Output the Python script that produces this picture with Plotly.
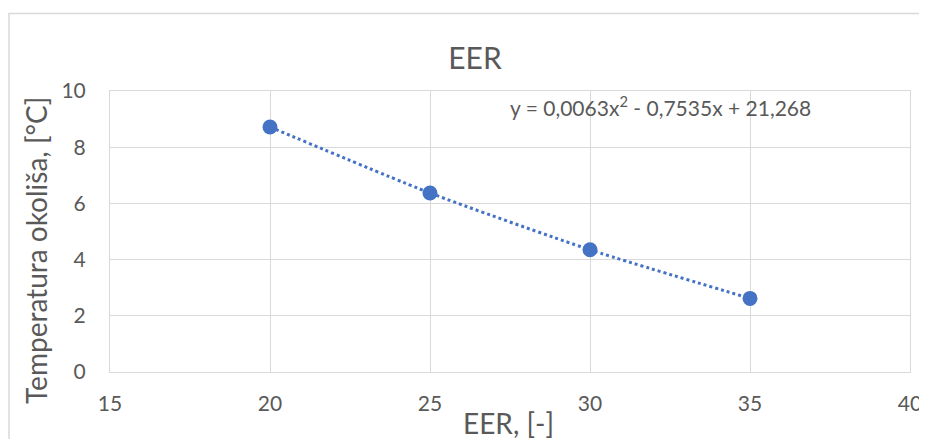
import plotly.graph_objects as go

eer = [20, 25, 30, 35]
temp = [8.72, 6.37, 4.35, 2.62]
x_ticks = [15, 20, 25, 30, 35, 40]
y_ticks = [0, 2, 4, 6, 8, 10]
equation = "y = 0,0063x<sup>2</sup> - 0,7535x + 21,268"

FONT = "Lato"
GRID = "#d9d9d9"
TXT = "#595959"
BLUE = "#4472C4"

# page body has an 8px margin: screen px -> figure px subtract 8
OFF = 8

def px(sx):
    return (sx - 110) / 800

def py(sy):
    return (372 - sy) / 281

fig = go.Figure()
fig.add_trace(go.Scatter(x=eer, y=temp, mode="lines",
                         line=dict(color=BLUE, width=3, dash="dot", shape="spline", smoothing=0.6),
                         hoverinfo="skip", showlegend=False))
fig.add_trace(go.Scatter(x=eer, y=temp, mode="markers",
                         marker=dict(color=BLUE, size=15),
                         showlegend=False))

fig.update_layout(
    width=927, height=439,
    margin=dict(l=110 - OFF, r=927 - (110 - OFF) - 800, t=91 - OFF, b=439 - (91 - OFF) - 281),
    paper_bgcolor="white", plot_bgcolor="white",
    font=dict(family=FONT, color=TXT),
    title=dict(text="EER", x=(475 - OFF) / 927, xanchor="center", y=1 - (58 - OFF) / 439, yanchor="middle",
               font=dict(size=30, color=TXT, family=FONT)),
    xaxis=dict(range=[15, 40], tickvals=x_ticks, showgrid=True, gridcolor=GRID, gridwidth=1,
               showline=True, linecolor=GRID, linewidth=1, mirror=True, zeroline=False,
               ticks="", tickfont=dict(size=21, color=TXT), ticklabelstandoff=13),
    yaxis=dict(range=[0, 10], tickvals=y_ticks, showgrid=True, gridcolor=GRID, gridwidth=1,
               showline=True, linecolor=GRID, linewidth=1, mirror=True, zeroline=False,
               ticks="", tickfont=dict(size=21, color=TXT), ticklabelstandoff=19),
    shapes=[dict(type="rect", xref="paper", yref="paper",
                 x0=px(OFF + 1), x1=px(940), y0=py(450), y1=py(13.5),
                 line=dict(color=GRID, width=1.5), fillcolor="rgba(0,0,0,0)", layer="below")],
    annotations=[
        dict(text=equation, xref="paper", yref="paper", x=px(508), y=py(106),
             xanchor="left", yanchor="middle", showarrow=False, font=dict(size=21, color=TXT)),
        dict(text="EER, [-]", xref="paper", yref="paper", x=px(508), y=py(423),
             xanchor="center", yanchor="middle", showarrow=False, font=dict(size=28, color=TXT)),
        dict(text="Temperatura okoliša, [°C]", xref="paper", yref="paper", x=px(36),
             y=py(251), xanchor="center", yanchor="middle", textangle=-90,
             showarrow=False, font=dict(size=28, color=TXT)),
    ],
)

fig.write_html("out.html", config={"displayModeBar": False})
